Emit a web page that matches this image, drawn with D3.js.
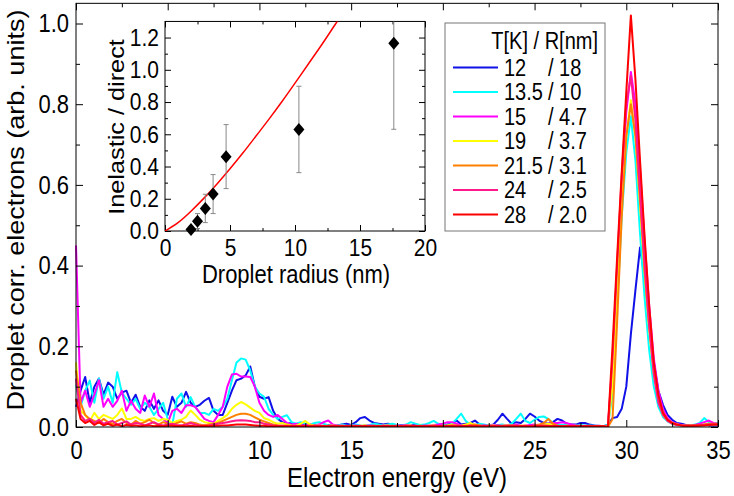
<!DOCTYPE html>
<html lang="en">
<head>
  <meta charset="UTF-8">
  <title>Droplet electron spectra</title>
  <script src="https://d3js.org/d3.v7.min.js"></script>
  <style>
    body { margin: 0; background: #fff; }
    text { font-family: "Liberation Sans", Arial, Helvetica, sans-serif; fill: #000; }
  </style>
</head>
<body>
<script>
  // energy bins in eV (0.25 eV step, 0 .. 35)
  const energy = d3.range(0, 141).map(i => i * 0.25);

  // one row = 5 eV (20 bins), first value is E = 0
  const blue = [0.05,
    0.09,0.124,0.06,0.1, 0.12,0.08,0.11,0.1, 0.07,0.085,0.09,0.06, 0.08,0.05,0.04,0.066, 0.045,0.066,0.04,0.03,
    0.075,0.05,0.06,0.087, 0.06,0.05,0.055,0.065, 0.072,0.04,0.03,0.03, 0.06,0.09,0.116,0.12, 0.128,0.15,0.1,0.075,
    0.07,0.074,0.04,0.02, 0.012,0.008,0.01,0.006, 0.004,0.006,0.003,0.005, 0.004,0.002,0.005,0.003, 0.004,0.006,0.008,0.005,
    0.012,0.022,0.025,0.016, 0.01,0.008,0.006,0.008, 0.006,0.004,0.005,0.003, 0.004,0.006,0.003,0.004, 0.002,0.003,0.005,0.004,
    0.006,0.008,0.016,0.006, 0.008,0.01,0.016,0.006, 0.004,0.003,0.006,0.018, 0.033,0.02,0.008,0.012, 0.01,0.02,0.033,0.026,
    0.016,0.01,0.008,0.012, 0.02,0.016,0.008,0.006, 0.006,0.01,0.01,0.006, 0.004,0.003,0.002,0.005, 0.022,0.025,0.045,0.1,
    0.23,0.34,0.445,0.37, 0.25,0.16,0.09,0.055, 0.03,0.018,0.01,0.008, 0.005,0.004,0.003,0.004, 0.006,0.004,0.003,0.004];

  const cyan = [0.105,
    0.05,0.09,0.115,0.06, 0.12,0.07,0.1,0.06, 0.136,0.085,0.07,0.055, 0.07,0.045,0.06,0.05, 0.03,0.045,0.06,0.02,
    0.005,0.07,0.083,0.05, 0.074,0.05,0.035,0.035, 0.03,0.045,0.04,0.05, 0.07,0.116,0.16,0.17, 0.167,0.14,0.1,0.083,
    0.075,0.045,0.03,0.02, 0.025,0.029,0.012,0.008, 0.012,0.008,0.005,0.01, 0.012,0.008,0.004,0.003, 0.004,0.006,0.003,0.004,
    0.006,0.004,0.003,0.005, 0.008,0.006,0.004,0.006, 0.008,0.005,0.004,0.006, 0.012,0.008,0.005,0.006, 0.01,0.015,0.008,0.005,
    0.004,0.008,0.02,0.033, 0.015,0.006,0.004,0.008, 0.006,0.004,0.003,0.005, 0.006,0.004,0.008,0.02, 0.033,0.015,0.01,0.018,
    0.025,0.026,0.02,0.01, 0.006,0.005,0.006,0.004, 0.003,0.005,0.004,0.003, 0.004,0.002,0.002,0.005, 0.08,0.3,0.52,0.68,
    0.77,0.66,0.48,0.32, 0.19,0.1,0.05,0.025, 0.014,0.008,0.005,0.004, 0.003,0.004,0.006,0.01, 0.022,0.012,0.008,0.01];

  const magenta = [0.45,
    0.06,0.09,0.05,0.08, 0.116,0.05,0.07,0.05, 0.065,0.09,0.04,0.065, 0.045,0.035,0.078,0.05, 0.083,0.03,0.02,0.01,
    0.04,0.045,0.035,0.054, 0.054,0.05,0.035,0.02, 0.015,0.012,0.03,0.05, 0.1,0.13,0.132,0.125, 0.125,0.124,0.1,0.06,
    0.04,0.03,0.025,0.03, 0.02,0.01,0.006,0.008, 0.005,0.004,0.006,0.004, 0.006,0.012,0.016,0.006, 0.003,0.004,0.002,0.003,
    0.004,0.002,0.003,0.004, 0.003,0.002,0.004,0.003, 0.002,0.004,0.003,0.005, 0.004,0.003,0.002,0.004, 0.003,0.005,0.006,0.008,
    0.012,0.012,0.008,0.004, 0.006,0.008,0.005,0.003, 0.004,0.003,0.005,0.004, 0.003,0.005,0.004,0.006, 0.004,0.003,0.005,0.006,
    0.004,0.005,0.008,0.01, 0.01,0.012,0.01,0.006, 0.004,0.003,0.002,0.002, 0.003,0.002,0.002,0.003, 0.15,0.38,0.6,0.78,
    0.88,0.8,0.64,0.46, 0.3,0.17,0.09,0.045, 0.022,0.012,0.008,0.005, 0.004,0.003,0.005,0.008, 0.012,0.016,0.01,0.008];

  const yellow = [0.16,
    0.04,0.03,0.015,0.035, 0.02,0.03,0.025,0.02, 0.03,0.046,0.02,0.02, 0.025,0.018,0.015,0.02, 0.022,0.015,0.02,0.018,
    0.01,0.015,0.018,0.025, 0.041,0.03,0.018,0.012, 0.01,0.008,0.015,0.022, 0.03,0.045,0.055,0.062, 0.056,0.048,0.04,0.035,
    0.022,0.018,0.012,0.008, 0.01,0.006,0.004,0.003, 0.008,0.015,0.006,0.003, 0.004,0.002,0.003,0.004, 0.002,0.003,0.002,0.003,
    0.002,0.003,0.004,0.002, 0.003,0.002,0.003,0.004, 0.002,0.003,0.002,0.003, 0.004,0.002,0.003,0.002, 0.003,0.004,0.002,0.003,
    0.004,0.006,0.004,0.003, 0.006,0.01,0.004,0.003, 0.002,0.003,0.004,0.002, 0.003,0.004,0.003,0.002, 0.004,0.003,0.002,0.003,
    0.004,0.006,0.008,0.005, 0.003,0.002,0.003,0.002, 0.003,0.002,0.002,0.003, 0.002,0.002,0.002,0.002, 0.1,0.33,0.55,0.72,
    0.81,0.72,0.55,0.38, 0.24,0.13,0.065,0.03, 0.016,0.01,0.006,0.004, 0.003,0.004,0.003,0.004, 0.006,0.008,0.006,0.006];

  const orange = [0.14,
    0.06,0.03,0.02,0.015, 0.01,0.02,0.012,0.008, 0.015,0.02,0.01,0.006, 0.015,0.008,0.012,0.018, 0.01,0.006,0.012,0.008,
    0.004,0.01,0.014,0.008, 0.012,0.01,0.006,0.004, 0.006,0.008,0.01,0.015, 0.02,0.025,0.03,0.033, 0.033,0.03,0.024,0.018,
    0.014,0.01,0.006,0.004, 0.003,0.004,0.003,0.002, 0.003,0.002,0.004,0.003, 0.002,0.003,0.002,0.002, 0.003,0.002,0.002,0.003,
    0.002,0.002,0.003,0.002, 0.002,0.003,0.002,0.002, 0.003,0.002,0.002,0.003, 0.002,0.002,0.003,0.002, 0.002,0.003,0.002,0.002,
    0.003,0.004,0.003,0.002, 0.003,0.004,0.006,0.004, 0.002,0.003,0.002,0.003, 0.002,0.003,0.004,0.003, 0.002,0.003,0.002,0.004,
    0.006,0.01,0.02,0.008, 0.003,0.002,0.003,0.002, 0.002,0.003,0.002,0.002, 0.002,0.002,0.002,0.0, 0.02,0.26,0.52,0.72,
    0.8,0.72,0.56,0.39, 0.25,0.14,0.07,0.035, 0.018,0.01,0.006,0.004, 0.003,0.003,0.004,0.005, 0.006,0.008,0.008,0.008];

  const pink = [0.12,
    0.03,0.015,0.02,0.01, 0.018,0.008,0.012,0.015, 0.006,0.01,0.014,0.006, 0.01,0.008,0.004,0.008, 0.012,0.006,0.004,0.006,
    0.008,0.005,0.004,0.006, 0.01,0.006,0.004,0.003, 0.004,0.006,0.008,0.01, 0.012,0.014,0.016,0.017, 0.016,0.015,0.012,0.012,
    0.008,0.006,0.004,0.003, 0.003,0.002,0.002,0.002, 0.002,0.003,0.002,0.002, 0.003,0.002,0.002,0.003, 0.002,0.002,0.003,0.002,
    0.002,0.003,0.002,0.002, 0.003,0.002,0.002,0.003, 0.002,0.002,0.003,0.002, 0.002,0.003,0.002,0.002, 0.003,0.002,0.002,0.003,
    0.002,0.003,0.004,0.003, 0.002,0.003,0.002,0.002, 0.003,0.002,0.002,0.003, 0.002,0.002,0.003,0.002, 0.002,0.003,0.002,0.003,
    0.003,0.004,0.003,0.002, 0.003,0.002,0.002,0.003, 0.002,0.002,0.003,0.002, 0.002,0.002,0.002,0.0, 0.17,0.4,0.62,0.8,
    0.87,0.76,0.58,0.4, 0.25,0.13,0.06,0.03, 0.015,0.008,0.005,0.004, 0.003,0.003,0.004,0.004, 0.005,0.006,0.006,0.006];

  const red = [0.07,
    0.02,0.01,0.015,0.005, 0.012,0.004,0.008,0.003, 0.006,0.002,0.005,0.003, 0.004,0.002,0.003,0.004, 0.002,0.003,0.002,0.003,
    0.003,0.002,0.003,0.002, 0.003,0.002,0.002,0.003, 0.002,0.003,0.003,0.004, 0.004,0.005,0.006,0.006, 0.006,0.005,0.004,0.003,
    0.003,0.002,0.002,0.002, 0.002,0.002,0.002,0.002, 0.002,0.002,0.002,0.002, 0.002,0.002,0.002,0.002, 0.002,0.002,0.002,0.002,
    0.002,0.002,0.002,0.002, 0.002,0.002,0.002,0.002, 0.002,0.002,0.002,0.002, 0.002,0.002,0.002,0.002, 0.002,0.002,0.002,0.002,
    0.002,0.002,0.002,0.002, 0.002,0.002,0.002,0.002, 0.002,0.002,0.002,0.002, 0.002,0.002,0.002,0.002, 0.002,0.002,0.002,0.002,
    0.002,0.002,0.002,0.002, 0.002,0.002,0.002,0.002, 0.002,0.002,0.002,0.002, 0.002,0.002,0.002,0.0, 0.2,0.42,0.63,0.83,
    1.02,0.86,0.66,0.47, 0.3,0.16,0.08,0.035, 0.018,0.01,0.006,0.004, 0.003,0.003,0.003,0.004, 0.004,0.005,0.006,0.006];

  const series = [blue, cyan, magenta, yellow, orange, pink, red];
  const colors = ["#1010e8", "#00ffff", "#ff00ff", "#ffff00", "#ff8000", "#ff1a8c", "#ff0000"];
  const tempLabels = ["12", "13.5", "15", "19", "21.5", "24", "28"];
  const radiusLabels = ["18", "10", "4.7", "3.7", "3.1", "2.5", "2.0"];

  // inset: inelastic / direct ratio vs droplet radius
  const radius = [2.0, 2.5, 3.1, 3.7, 4.7, 10.3, 17.6];
  const ratio = [0.01, 0.06, 0.14, 0.23, 0.46, 0.63, 1.165];
  const errLow = [0.0, 0.015, 0.052, 0.108, 0.263, 0.362, 0.631];
  const errHigh = [0.02, 0.108, 0.228, 0.35, 0.66, 0.898, 1.7];
  const fitRadius = [0, 1, 2, 3, 4, 5, 6, 7, 8, 9, 10, 11, 12, 13, 14];
  const fitRatio = [0, 0.052, 0.123, 0.204, 0.292, 0.386, 0.485, 0.589, 0.694, 0.803, 0.917, 1.033, 1.149, 1.27, 1.39];

  // the source figure is a bit taller than wide, so glyphs get stretched vertically
  const k = 1.15;

  const svg = d3.select("body").append("svg")
    .attr("width", 734)
    .attr("height", 496);

  function label(x, y, str, size, anchor, rot) {
    const t = svg.append("text")
      .attr("font-size", size)
      .attr("text-anchor", anchor)
      .text(str);
    if (rot) {
      t.attr("transform", "translate(" + x + "," + y + ") scale(1," + k + ") rotate(-90)");
    } else {
      const c = y - 0.35 * size;
      t.attr("transform", "translate(" + x + "," + c + ") scale(1," + k + ") translate(0," + (0.35 * size) + ")");
    }
    return t;
  }

  // main plot area
  const L = 76, R = 718, T = 4, B = 427;
  const x = d3.scaleLinear().domain([0, 35]).range([L, R]);
  const y = d3.scaleLinear().domain([0, 1.05]).range([B, B - 1.05 * 403.5]);

  svg.append("clipPath").attr("id", "clipMain")
    .append("rect").attr("x", L - 1).attr("y", T).attr("width", R - L + 1).attr("height", B - T);

  series.forEach((vals, i) => {
    svg.append("path")
      .datum(vals)
      .attr("clip-path", "url(#clipMain)")
      .attr("fill", "none")
      .attr("stroke", colors[i])
      .attr("stroke-width", 2)
      .attr("stroke-linejoin", "round")
      .attr("d", d3.line()
        .x((d, j) => x(energy[j]))
        .y(d => y(d)));
  });

  // boxed frame with inward ticks on all four sides
  function frame(xs, ys, xMajor, xMinor, yMajor, yMinor, big, small, fs, xPad, yPad, yFmt) {
    const [x0, x1] = xs.range();
    const [y0, y1] = ys.range();
    const g = svg.append("g");
    const bottom = g.append("g").attr("transform", "translate(0," + y0 + ")");
    bottom.call(d3.axisBottom(xs).tickValues(xMinor).tickSize(-small).tickFormat(""));
    const xl = bottom.append("g").call(d3.axisBottom(xs).tickValues(xMajor).tickSize(-big).tickPadding(xPad).tickFormat(d3.format("d")));
    const top = g.append("g").attr("transform", "translate(0," + y1 + ")");
    top.call(d3.axisTop(xs).tickValues(xMinor).tickSize(-small).tickFormat(""));
    top.append("g").call(d3.axisTop(xs).tickValues(xMajor).tickSize(-big).tickFormat(""));
    const left = g.append("g").attr("transform", "translate(" + x0 + ",0)");
    left.call(d3.axisLeft(ys).tickValues(yMinor).tickSize(-small).tickFormat(""));
    const yl = left.append("g").call(d3.axisLeft(ys).tickValues(yMajor).tickSize(-big).tickPadding(yPad).tickFormat(yFmt));
    const right = g.append("g").attr("transform", "translate(" + x1 + ",0)");
    right.call(d3.axisRight(ys).tickValues(yMinor).tickSize(-small).tickFormat(""));
    right.append("g").call(d3.axisRight(ys).tickValues(yMajor).tickSize(-big).tickFormat(""));
    g.selectAll(".domain").remove();
    g.selectAll(".tick text").attr("font-size", fs).attr("font-family", null);
    g.selectAll(".tick line").attr("stroke", "#000");
    const c = xPad + 0.36 * fs;
    xl.selectAll(".tick text")
      .attr("transform", "translate(0," + c + ") scale(1," + k + ") translate(0," + (-c) + ")");
    yl.selectAll(".tick text").attr("transform", "scale(1," + k + ")");
    g.append("rect")
      .attr("x", x0).attr("y", y1).attr("width", x1 - x0).attr("height", y0 - y1)
      .attr("fill", "none").attr("stroke", "#000").attr("stroke-width", 1);
  }

  frame(x, y,
    d3.range(0, 36, 5), d3.range(2.5, 35, 5),
    d3.range(0, 1.01, 0.2), d3.range(0.1, 1.05, 0.2),
    7, 4, 22, 15, 7, d3.format(".1f"));

  label((L + R) / 2, 486, "Electron energy (eV)", 24, "middle", false);
  label(24, 210, "Droplet corr. electrons (arb. units)", 23.5, "middle", true);

  // legend
  svg.append("rect")
    .attr("x", 445).attr("y", 23).attr("width", 160).attr("height", 208)
    .attr("fill", "#fff").attr("stroke", "#777").attr("stroke-width", 1);
  label(598, 47.5, "T[K] / R[nm]", 20, "end", false);
  tempLabels.forEach((t, i) => {
    const yy = 67.5 + i * 24.5;
    svg.append("line")
      .attr("x1", 453).attr("x2", 498).attr("y1", yy).attr("y2", yy)
      .attr("stroke", colors[i]).attr("stroke-width", 2);
    label(504, yy + 7, t, 20, "start", false);
    label(548, yy + 7, "/ " + radiusLabels[i], 20, "start", false);
  });

  // inset
  const ix = d3.scaleLinear().domain([0, 20]).range([165, 425]);
  const iy = d3.scaleLinear().domain([0, 1.3]).range([231, 231 - 1.3 * 161.2]);

  svg.append("rect")
    .attr("x", 165).attr("y", iy(1.3)).attr("width", 260).attr("height", 231 - iy(1.3))
    .attr("fill", "#fff");
  svg.append("clipPath").attr("id", "clipInset")
    .append("rect").attr("x", 165).attr("y", iy(1.3)).attr("width", 260).attr("height", 231 - iy(1.3));

  frame(ix, iy,
    d3.range(0, 21, 5), d3.range(2.5, 20, 5),
    d3.range(0, 1.21, 0.2), d3.range(0.1, 1.3, 0.2),
    6, 3, 21, 9, 6, d3.format(".1f"));

  svg.append("path")
    .datum(fitRadius.map((r, i) => [r, fitRatio[i]]))
    .attr("clip-path", "url(#clipInset)")
    .attr("fill", "none").attr("stroke", "#ff0000").attr("stroke-width", 1.5)
    .attr("d", d3.line().x(d => ix(d[0])).y(d => iy(d[1])).curve(d3.curveNatural));

  const pts = radius.map((r, i) => ({r: r, v: ratio[i], lo: errLow[i], hi: errHigh[i]}));
  const eb = svg.append("g").attr("clip-path", "url(#clipInset)")
    .attr("stroke", "#888").attr("stroke-width", 1);
  eb.selectAll(".bar").data(pts).join("line")
    .attr("x1", d => ix(d.r)).attr("x2", d => ix(d.r))
    .attr("y1", d => iy(d.lo)).attr("y2", d => iy(d.hi));
  eb.selectAll(".capLo").data(pts).join("line")
    .attr("x1", d => ix(d.r) - 2.5).attr("x2", d => ix(d.r) + 2.5)
    .attr("y1", d => iy(d.lo)).attr("y2", d => iy(d.lo));
  eb.selectAll(".capHi").data(pts).join("line")
    .attr("x1", d => ix(d.r) - 2.5).attr("x2", d => ix(d.r) + 2.5)
    .attr("y1", d => iy(d.hi)).attr("y2", d => iy(d.hi));

  svg.append("g").selectAll("path").data(pts).join("path")
    .attr("transform", d => "translate(" + ix(d.r) + "," + iy(d.v) + ")")
    .attr("d", "M0,-6.5L5.5,0L0,6.5L-5.5,0Z")
    .attr("fill", "#000");

  label(296, 282, "Droplet radius (nm)", 22, "middle", false);
  label(124, 127, "Inelastic / direct", 22, "middle", true);
</script>
</body>
</html>
